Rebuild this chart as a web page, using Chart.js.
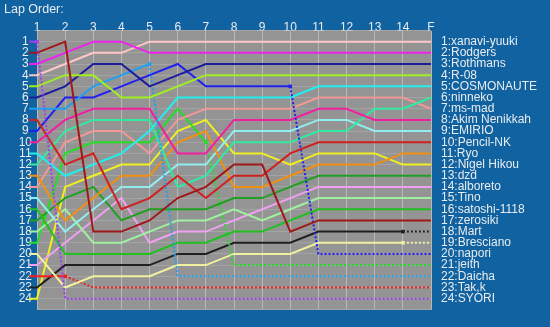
<!DOCTYPE html>
<html>
<head>
<meta charset="utf-8">
<script src="https://cdn.jsdelivr.net/npm/chart.js@4"></script>
<style>
  html, body { margin: 0; padding: 0; background: #1062a0; }
  canvas { display: block; }
</style>
</head>
<body>
<canvas id="chart" width="550" height="327"></canvas>
<script>
// ラップのラベル
const lapLabels = ['1', '2', '3', '4', '5', '6', '7', '8', '9', '10', '11', '12', '13', '14', 'F'];

// 最終順位（右側のラベル）
const finishOrder = [
  'xanavi-yuuki', 'Rodgers', 'Rothmans', 'R-08', 'COSMONAUTE', 'ninneko',
  'ms-mad', 'Akim Nenikkah', 'EMIRIO', 'Pencil-NK', 'Ryo', 'Nigel Hikou',
  'dzd', 'alboreto', 'Tino', 'satoshi-1118', 'zerosiki', 'Mart',
  'Bresciano', 'napori', 'jeith', 'Daicha', 'Tak,k', 'SYORI'
];

// 各ドライバーの順位（ラップ1〜14, F）
const syori      = [1, 24, 24, 24, 24, 24, 24, 24, 24, 24, 24, 24, 24, 24, 24];
const zerosiki   = [2, 1, 18, 18, 17, 15, 14, 12, 12, 18, 17, 17, 17, 17, 17];
const rodgers    = [3, 2, 1, 1, 2, 2, 2, 2, 2, 2, 2, 2, 2, 2, 2];
const xanavi     = [4, 3, 2, 2, 1, 1, 1, 1, 1, 1, 1, 1, 1, 1, 1];
const r08        = [5, 4, 4, 6, 6, 5, 4, 4, 4, 4, 4, 4, 4, 4, 4];
const rothmans   = [6, 5, 3, 3, 5, 4, 3, 3, 3, 3, 3, 3, 3, 3, 3];
const daicha     = [7, 7, 5, 4, 3, 22, 22, 22, 22, 22, 22, 22, 22, 22, 22];
const pencilNk   = [8, 12, 11, 16, 15, 13, 15, 13, 13, 11, 10, 10, 10, 10, 10];
const napori     = [9, 6, 6, 5, 4, 3, 5, 5, 5, 5, 20, 20, 20, 20, 20];
const akim       = [10, 8, 7, 7, 7, 11, 11, 8, 8, 8, 7, 7, 8, 8, 8];
const cosmonaute = [11, 13, 12, 11, 9, 6, 6, 6, 6, 6, 5, 5, 5, 5, 5];
const ninneko    = [12, 9, 8, 8, 8, 14, 13, 10, 10, 10, 9, 9, 7, 7, 6];
const ryo        = [13, 17, 15, 13, 13, 10, 9, 14, 14, 13, 12, 12, 12, 11, 11];
const msMad      = [14, 10, 9, 9, 11, 8, 7, 7, 7, 7, 6, 6, 6, 6, 7];
const emirio     = [15, 18, 16, 14, 14, 12, 12, 9, 9, 9, 8, 8, 9, 9, 9];
const satoshi    = [16, 20, 20, 20, 20, 19, 19, 18, 18, 17, 16, 16, 16, 16, 16];
const dzd        = [17, 15, 14, 17, 16, 16, 16, 15, 15, 14, 13, 13, 13, 13, 13];
const tino       = [18, 16, 19, 19, 18, 17, 17, 16, 17, 16, 15, 15, 15, 15, 15];
const jeith      = [19, 11, 10, 10, 10, 7, 10, 21, 21, 21, 21, 21, 21, 21, 21];
const bresciano  = [20, 23, 22, 22, 22, 21, 21, 20, 20, 20, 19, 19, 19, 19, 19];
const alboreto   = [21, 19, 17, 15, 19, 18, 18, 17, 16, 15, 14, 14, 14, 14, 14];
const takk       = [22, 22, 23, 23, 23, 23, 23, 23, 23, 23, 23, 23, 23, 23, 23];
const mart       = [23, 21, 21, 21, 21, 20, 20, 19, 19, 19, 18, 18, 18, 18, 18];
const nigel      = [24, 14, 13, 12, 12, 9, 8, 11, 11, 12, 11, 11, 11, 12, 12];

// スタート順に並べた系列
const series = [syori, zerosiki, rodgers, xanavi, r08, rothmans, daicha, pencilNk,
  napori, akim, cosmonaute, ninneko, ryo, msMad, emirio, satoshi, dzd, tino,
  jeith, bresciano, alboreto, takk, mart, nigel];

// リタイアしたラップ（null = 完走）
const retireLaps = [1, null, null, null, null, null, 5, null,
  10, null, null, null, null, null, null, null, null, null,
  7, 14, null, 2, 14, null];

// 線の色
const lineColors = [
  '#a040f0', '#a01818', '#f020f0', '#ffc8c8', '#a0f020', '#1c1c9c', '#20a0f0', '#d02020',
  '#2020f0', '#f020a0', '#20f0f0', '#30eaa0', '#f09010', '#f09898', '#90eeee', '#20c020',
  '#20a020', '#a0f0a0', '#20e020', '#f0f0a0', '#f0a0f0', '#f02020', '#202020', '#f0f020'
];

const STUB = 0.28;
const textColor = '#e8ecf0';
const font = { family: "'Liberation Sans', Arial, sans-serif", size: 12 };

// 系列データを作成
function buildPoints(pos) {
  const pts = [{ x: 1 - STUB, y: pos[0] }];
  pos.forEach((p, i) => pts.push({ x: i + 1, y: p }));
  pts.push({ x: lapLabels.length + STUB, y: pos[pos.length - 1] });
  return pts;
}

const datasets = series.map((pos, idx) => {
  const retire = retireLaps[idx];
  return {
    data: buildPoints(pos),
    borderColor: lineColors[idx],
    backgroundColor: lineColors[idx],
    borderWidth: 2,
    tension: 0,
    fill: false,
    clip: false,
    pointStyle: 'rect',
    pointRadius: ctx => (retire !== null && ctx.dataIndex === retire) ? 2.5 : 0,
    pointBorderWidth: 0,
    segment: {
      borderDash: ctx => (retire !== null && ctx.p0DataIndex >= retire) ? [2, 2] : undefined
    }
  };
});

// 背景
const bgPlugin = {
  id: 'bg',
  beforeDraw(chart) {
    const { ctx, chartArea: a } = chart;
    ctx.save();
    ctx.fillStyle = '#1062a0';
    ctx.fillRect(0, 0, chart.width, chart.height);
    ctx.fillStyle = '#949494';
    ctx.fillRect(a.left, a.top, a.right - a.left, a.bottom - a.top);
    ctx.restore();
  }
};

new Chart(document.getElementById('chart'), {
  type: 'line',
  data: { datasets },
  plugins: [bgPlugin],
  options: {
    responsive: false,
    devicePixelRatio: 1,
    animation: false,
    layout: { padding: { left: 4, right: 0, top: 2, bottom: 8.5 } },
    plugins: {
      legend: { display: false },
      tooltip: { enabled: false },
      title: {
        display: true,
        text: 'Lap Order:',
        align: 'start',
        color: textColor,
        font: { family: font.family, size: 12.5, weight: 'normal' },
        padding: { top: 0, bottom: 0 }
      }
    },
    scales: {
      x: {
        type: 'linear',
        position: 'top',
        min: 1,
        max: lapLabels.length,
        afterFit: scale => { scale.height = 13.5; },
        border: { display: false },
        grid: { color: '#b8b8b8', drawTicks: false },
        ticks: {
          stepSize: 1,
          autoSkip: false,
          maxRotation: 0,
          padding: -4,
          color: textColor,
          font,
          callback: v => lapLabels[v - 1] || ''
        }
      },
      y: {
        type: 'linear',
        position: 'left',
        min: 0,
        max: 25,
        reverse: true,
        afterFit: scale => { scale.width = 33; },
        border: { display: false },
        grid: { color: '#a4a4a4', drawTicks: false },
        ticks: {
          stepSize: 1,
          autoSkip: false,
          maxTicksLimit: 30,
          crossAlign: 'center',
          padding: 5,
          color: textColor,
          font,
          callback: v => (v >= 1 && v <= 24) ? String(v) : ''
        }
      },
      y2: {
        type: 'linear',
        position: 'right',
        min: 0,
        max: 25,
        reverse: true,
        afterFit: scale => { scale.width = 119; },
        border: { display: false },
        grid: { display: false, drawTicks: false },
        ticks: {
          stepSize: 1,
          autoSkip: false,
          maxTicksLimit: 30,
          padding: 10,
          color: textColor,
          font,
          callback: v => (v >= 1 && v <= 24) ? v + ':' + finishOrder[v - 1] : ''
        }
      }
    }
  }
});
</script>
</body>
</html>
